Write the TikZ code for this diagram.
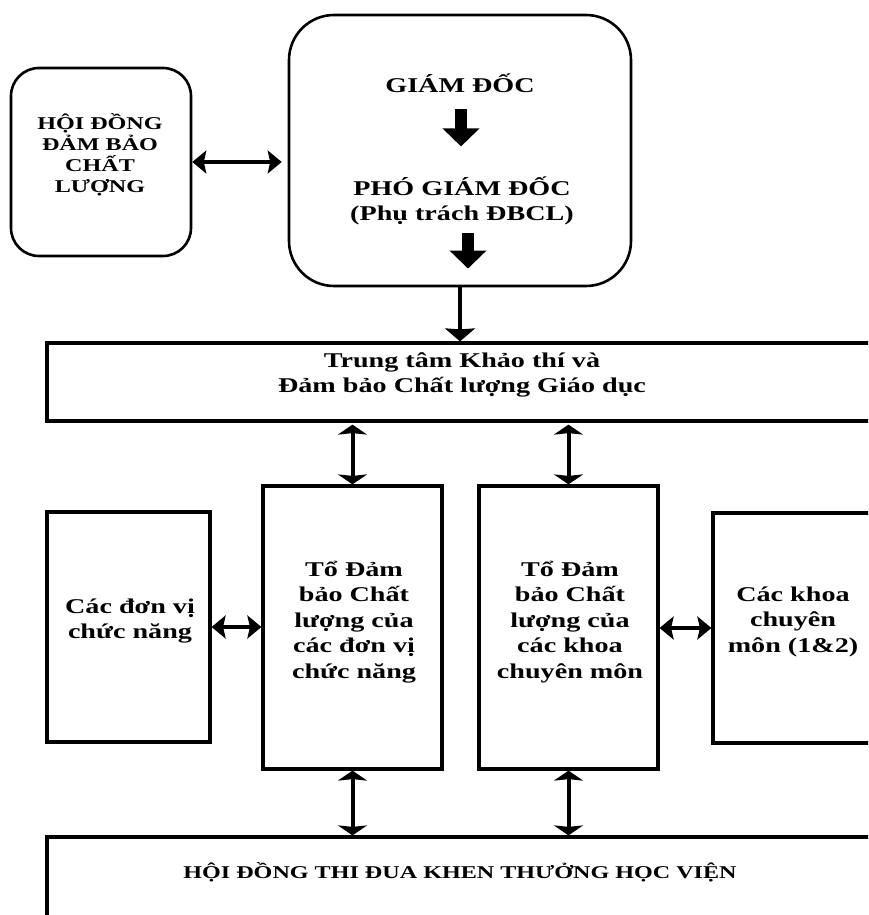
\documentclass[tikz,border=0pt]{standalone}
\usepackage{fontspec}
\setmainfont{Liberation Serif}[FakeStretch=1.34]
\usetikzlibrary{arrows.meta}

\begin{document}
\begin{tikzpicture}[x=1pt,y=-1pt,
  hop/.style={draw,line width=3.2pt,inner sep=0pt},
  hopbo/.style={draw,line width=2.6pt,inner sep=0pt},
  chu/.style={align=center,inner sep=0pt,font=\fontsize{21}{25.5}\selectfont\bfseries},
  chunho/.style={align=center,inner sep=0pt,font=\fontsize{18}{21}\selectfont\bfseries},
  haidoc/.style={line width=4pt,{Stealth[length=10pt,width=29pt,inset=1.5pt]}-{Stealth[length=10pt,width=29pt,inset=1.5pt]}},
  haingang/.style={line width=4pt,{Stealth[length=14pt,width=23pt,inset=2.5pt]}-{Stealth[length=14pt,width=23pt,inset=2.5pt]}},
  muiten/.style={line width=4pt,-{Stealth[length=13pt,width=30pt,inset=1pt]}},
  khoi/.style={line width=12pt,-{Triangle[length=18pt,width=36pt]}}]
\useasboundingbox (0,0) rectangle (868,915);
\fill[white] (0,0) rectangle (868,915);
\clip (0,0) rectangle (868,915);

\node[hopbo,rounded corners=28pt,minimum width=180,minimum height=188] (hddb) at (101,162) {};
\node[hopbo,rounded corners=45pt,minimum width=342,minimum height=271] (bgd) at (460,150.5) {};
\node[hop,minimum width=830,minimum height=78] (ttkt) at (462,382) {};
\node[hop,minimum width=163,minimum height=230] (cdv) at (128.5,627) {};
\node[hop,minimum width=179,minimum height=283] (to1) at (352.5,627.5) {};
\node[hop,minimum width=179,minimum height=283] (to2) at (568.5,627.5) {};
\node[hop,minimum width=160,minimum height=230] (ck) at (793,628) {};
\node[hop,minimum width=830,minimum height=130] (htd) at (462,902) {};

\node[chunho] (t_hddb) at (100,155) {HỘI ĐỒNG\\ĐẢM BẢO\\CHẤT\\LƯỢNG};
\node[chu,anchor=base] (gd) at (460,93) {GIÁM ĐỐC};
\node[chu] (pgd) at (462,201) {PHÓ GIÁM ĐỐC\\(Phụ trách ĐBCL)};
\node[chu] (t_ttkt) at (462,375) {Trung tâm Khảo thí và\\Đảm bảo Chất lượng Giáo dục};
\node[chu] (t_cdv) at (130,621) {Các đơn vị\\chức năng};
\node[chu] (t_to1) at (354,622) {Tổ Đảm\\bảo Chất\\lượng của\\các đơn vị\\chức năng};
\node[chu] (t_to2) at (570,622) {Tổ Đảm\\bảo Chất\\lượng của\\các khoa\\chuyên môn};
\node[chu] (t_ck) at (793,621.5) {Các khoa\\chuyên\\môn (1\&2)};
\node[chu,font=\fontsize{18}{21}\selectfont\bfseries,anchor=base] (t_htd) at (460,878) {HỘI ĐỒNG THI ĐUA KHEN THƯỞNG HỌC VIỆN};

\draw[khoi] (gd.south) ++(1,16) -- ++(0,37);
\draw[khoi] (pgd.south) ++(6,7) -- ++(0,36);
\draw[muiten] (bgd.south) -- (bgd.south |- ttkt.north);
\draw[haingang,shorten >=6pt] (hddb.east) -- (hddb.east -| bgd.west);
\draw[haidoc,shorten <=2pt] (to1.north |- ttkt.south) -- (to1.north);
\draw[haidoc,shorten <=2pt] (to2.north |- ttkt.south) -- (to2.north);
\draw[haidoc] (to1.south) -- (to1.south |- htd.north);
\draw[haidoc] (to2.south) -- (to2.south |- htd.north);
\draw[haingang] (cdv.east) -- (cdv.east -| to1.west);
\draw[haingang] (ck.west) -- (ck.west -| to2.east);
\end{tikzpicture}
\end{document}
